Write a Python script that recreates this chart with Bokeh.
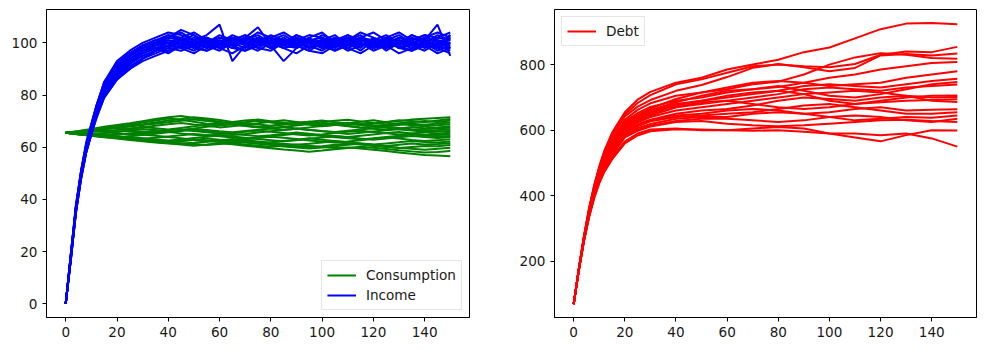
from bokeh.plotting import figure
from bokeh.layouts import row
from bokeh.models import Range1d, FixedTicker, Legend, LegendItem
from bokeh.embed import file_html
from bokeh.resources import INLINE

# ---------------- data ----------------
T_INC = [0, 2, 4, 6, 8, 10, 12, 15] + list(range(20, 151, 5))
T_CON = list(range(0, 151, 5))
T_DEBT = [0, 2, 4, 6, 8, 10, 12, 15, 20, 25, 30] + list(range(40, 151, 10))

income = [
    [0,18,36,49,59,66,73,81, 88,93,96,98,99,101,100,99,102,100,98,101,100,99,102,100,101,99,100,102,98,100,101,99,100,102,101],
    [0,19,37,50,60,67,74,83, 90,95,98,100,102,104,101,103,107,93,99,101,98,100,103,101,99,102,100,97,101,103,100,98,101,99,103],
    [0,17,35,48,58,65,72,80, 87,92,95,97,98,97,99,101,98,100,102,106,99,93,98,100,101,99,102,100,98,101,99,102,100,98,100],
    [0,18,37,50,61,68,75,84, 92,96,99,101,103,102,100,101,99,102,100,99,101,103,100,98,101,100,99,102,101,99,100,103,101,107,95],
    [0,17,36,49,59,66,72,80, 86,91,94,97,99,100,98,97,100,99,101,98,97,100,99,101,98,100,97,99,101,98,100,99,97,100,98],
    [0,19,38,51,61,68,76,85, 93,97,100,102,104,103,101,102,100,103,101,104,102,100,101,103,102,100,101,103,99,102,104,101,103,102,104],
    [0,18,36,49,60,67,74,82, 89,94,97,99,100,99,101,98,100,102,99,101,100,98,100,99,101,100,102,99,100,98,101,100,99,101,100],
    [0,18,37,50,60,67,74,82, 89,93,97,98,96,99,97,100,98,96,99,97,100,98,99,97,96,99,98,100,97,99,96,98,100,97,99],
    [0,17,35,48,58,65,72,79, 86,90,93,95,97,99,100,98,101,99,97,100,102,99,98,101,100,97,99,101,100,102,98,100,101,99,97],
    [0,19,37,51,61,69,76,85, 92,96,99,100,102,105,103,100,102,101,103,100,102,104,101,100,103,101,100,102,104,101,99,102,100,103,101],
    [0,18,36,50,60,67,73,81, 88,92,95,97,99,98,100,102,99,101,100,98,101,99,102,100,98,101,103,100,99,101,98,100,102,101,99],
    [0,18,37,50,60,68,75,83, 91,95,98,100,101,100,98,100,103,101,99,102,100,101,99,102,104,100,98,101,100,102,99,101,98,100,102],
    [0,17,36,49,59,66,73,80, 87,91,94,96,98,100,99,97,99,101,100,102,99,100,101,98,100,99,101,100,98,99,102,100,99,101,98],
    [0,19,37,50,61,68,75,84, 91,96,99,101,100,102,104,101,100,102,101,99,102,100,103,101,100,98,101,104,102,100,101,99,102,104,102],
    [0,18,36,49,59,66,73,81, 87,92,96,98,97,99,101,99,97,100,102,100,98,101,99,97,100,102,100,99,101,97,100,98,101,99,100],
    [0,18,37,50,60,67,74,83, 90,94,97,99,101,100,102,100,99,101,103,101,100,102,99,101,102,100,103,101,99,100,102,101,103,100,101],
    [0,17,35,48,58,65,71,79, 86,90,94,97,99,98,96,99,100,98,97,99,101,98,96,99,97,100,98,96,99,101,98,97,99,96,98],
    [0,19,38,51,62,69,76,84, 92,96,98,100,103,101,99,102,100,98,101,103,100,99,102,100,101,103,99,101,100,102,100,103,101,99,102],
    [0,18,36,49,60,67,74,82, 89,93,96,98,100,101,99,100,98,101,100,102,98,100,99,101,99,97,100,98,102,100,99,97,100,98,96],
    [0,18,37,50,61,68,75,83, 90,95,98,99,102,101,103,100,101,99,102,100,103,101,100,102,98,101,100,102,99,101,103,100,102,98,103],
]

consumption = [
    [65.5,66.0,66.8,67.3,68.0,68.6,69.5,70.2,71.0,70.5,69.8,69.0,68.5,68.9,69.4,68.7,68.2,68.8,69.3,68.6,68.0,68.5,69.2,69.8,70.3,69.6,70.0,70.6,70.9,71.2,71.5],
    [65.5,66.2,67.0,67.8,68.5,69.2,70.0,70.8,71.5,72.0,71.2,70.5,69.8,69.2,69.6,70.1,69.5,68.9,69.3,69.8,70.2,69.6,69.0,68.6,69.1,69.7,70.3,70.0,69.6,70.2,70.8],
    [65.5,65.8,66.5,67.2,67.6,68.3,68.8,69.5,70.2,70.8,71.5,71.0,70.4,69.7,70.2,70.6,70.0,69.4,68.8,69.2,69.7,70.1,70.5,69.9,69.3,68.8,69.2,69.6,70.0,69.7,70.2],
    [65.5,66.0,66.3,66.9,67.5,67.0,67.6,68.2,68.8,69.3,68.7,68.2,67.6,68.0,68.6,69.2,69.8,70.3,69.7,69.1,68.5,68.9,69.4,69.0,68.4,68.0,68.5,69.0,68.6,69.1,69.5],
    [65.5,65.6,66.2,66.0,66.6,67.2,67.8,67.3,66.8,67.4,68.0,68.6,69.2,68.7,68.1,67.6,68.1,68.7,69.3,69.8,69.2,68.6,68.0,67.5,67.9,68.5,69.0,68.4,68.0,68.4,68.8],
    [65.5,65.9,66.4,66.9,67.4,67.9,68.5,69.0,69.6,70.1,70.6,70.0,69.5,68.9,68.3,67.8,67.3,67.8,68.3,68.9,69.4,68.8,68.2,67.6,67.1,66.7,67.2,67.7,67.3,67.6,68.0],
    [65.5,65.3,65.8,66.3,66.0,66.5,67.0,66.6,66.1,66.6,67.2,67.8,68.3,68.8,68.3,67.7,67.2,66.7,67.1,67.6,68.1,68.6,69.0,68.5,68.0,67.5,67.0,66.6,67.0,67.3,67.5],
    [65.5,65.2,64.8,65.3,65.8,66.3,66.0,65.5,66.0,66.5,67.0,66.6,66.1,65.7,66.2,66.7,67.2,67.7,67.2,66.7,66.2,65.8,66.3,66.8,67.3,67.8,67.4,66.9,66.5,66.6,66.8],
    [65.5,65.8,66.2,65.8,65.3,64.8,65.2,65.7,66.2,66.7,66.2,65.7,65.2,64.7,65.1,65.6,66.1,66.6,67.1,66.6,66.1,65.6,65.1,65.5,66.0,66.5,66.9,66.4,65.9,65.9,66.2],
    [65.5,65.1,64.7,64.3,64.8,65.3,65.8,66.3,65.8,65.3,64.8,64.4,64.9,65.4,65.9,66.4,65.9,65.4,64.9,64.5,64.9,65.4,65.9,66.3,65.8,65.3,64.9,65.3,65.7,65.2,65.5],
    [65.5,65.0,64.6,64.1,63.7,64.2,64.7,65.2,65.7,66.2,66.7,66.2,65.7,65.2,64.7,64.2,64.6,65.1,65.6,65.2,64.7,64.3,63.9,64.4,64.9,65.4,65.8,65.3,64.8,64.7,65.0],
    [65.5,65.2,64.8,64.4,64.0,63.6,63.2,63.6,64.1,64.6,65.1,64.7,64.2,63.7,63.3,63.7,64.2,64.7,65.2,64.8,64.3,63.8,63.4,63.0,63.4,63.9,64.4,64.9,64.5,64.1,64.3],
    [65.5,65.6,65.2,64.7,64.2,63.8,63.4,63.0,62.6,63.0,63.5,64.0,64.5,64.1,63.6,63.1,62.7,62.3,62.7,63.2,63.7,64.2,63.8,63.3,62.9,63.3,63.8,64.3,63.9,63.5,63.8],
    [65.5,65.3,64.9,64.5,64.9,65.3,64.9,64.4,63.9,63.4,62.9,62.5,62.1,62.5,63.0,63.5,64.0,63.6,63.1,62.6,62.2,61.8,62.2,62.7,63.2,63.7,63.3,62.8,62.4,62.7,63.0],
    [65.5,64.9,64.4,63.9,63.5,63.1,62.7,62.3,61.9,62.3,62.8,63.3,62.9,62.4,61.9,61.5,61.9,62.4,62.9,63.4,62.9,62.4,61.9,61.4,61.0,61.4,61.9,62.4,62.0,61.8,62.2],
    [65.5,65.0,64.5,64.0,63.5,63.0,62.5,62.0,61.6,61.2,61.6,62.1,62.6,63.1,62.7,62.2,61.7,61.3,60.9,61.3,61.8,62.3,61.9,61.4,60.9,60.5,60.9,61.4,61.0,61.2,61.5],
    [65.5,65.2,64.7,64.2,63.7,63.2,62.8,62.3,61.9,61.5,61.1,60.8,61.2,61.7,62.2,61.8,61.3,60.8,60.4,60.0,60.4,60.9,61.4,61.0,60.5,60.1,59.7,60.1,60.5,60.4,60.8],
    [65.5,65.1,64.6,64.1,63.6,63.2,62.7,62.2,61.7,61.3,61.7,62.2,62.7,62.3,61.8,61.3,60.8,60.3,59.9,59.5,59.9,60.4,60.9,61.3,60.8,60.3,59.8,59.4,59.0,59.4,59.8],
    [65.5,65.0,64.4,63.8,63.3,62.8,62.3,61.8,61.4,61.0,60.6,61.0,61.5,61.1,60.6,60.1,59.6,59.1,58.7,58.3,58.7,59.2,59.7,60.2,59.8,59.3,58.8,58.4,58.0,58.2,58.5],
    [65.5,65.2,64.8,64.3,63.8,63.4,63.0,62.6,62.2,62.6,63.0,62.5,62.0,61.5,61.0,60.6,60.2,60.6,61.0,60.6,60.1,59.7,59.9,59.5,59.0,58.5,58.0,57.5,57.0,56.8,56.5],
]

debt = [
    [70,178,277,362,432,490,538,592,655,693,717, 745,760,785,800,815,838,852,880,908,925,927,923],
    [70,177,275,360,429,486,533,586,648,683,707, 740,755,775,795,800,795,792,802,830,840,838,854],
    [70,177,274,358,427,483,529,581,642,672,692, 720,738,762,790,802,792,780,790,828,832,828,834],
    [70,176,272,355,423,478,522,572,632,662,682, 705,715,725,740,748,770,800,822,835,830,820,818],
    [70,176,271,353,420,474,517,566,626,652,671, 690,700,715,725,732,745,760,770,785,795,805,808],
    [70,176,271,352,419,473,516,564,622,647,666, 695,715,730,745,750,745,735,740,745,760,770,780],
    [70,175,269,350,416,469,511,558,616,641,656, 680,690,700,710,720,735,740,735,730,740,750,757],
    [70,175,270,351,417,471,513,561,619,643,661, 685,705,720,725,735,720,705,700,710,725,740,747],
    [70,175,268,348,413,466,507,553,609,632,648, 670,680,690,700,710,725,730,725,720,730,735,739],
    [70,175,269,349,415,468,510,557,613,636,653, 675,690,705,715,720,710,690,680,690,700,705,706],
    [70,174,267,346,410,461,502,546,602,624,640, 660,670,680,690,700,710,715,720,715,705,700,701],
    [70,174,268,347,412,464,505,551,607,628,645, 670,685,690,680,670,665,670,680,685,690,692,694],
    [70,174,266,344,407,458,497,541,597,618,632, 650,660,665,675,690,700,695,690,700,705,690,686],
    [70,174,266,343,406,456,495,538,594,615,629, 645,650,660,665,660,650,655,665,670,660,662,664],
    [70,173,265,342,404,454,492,535,591,612,627, 640,645,650,655,665,675,680,670,660,650,650,655],
    [70,173,264,341,402,451,489,531,586,606,619, 635,640,640,650,655,650,640,630,635,640,638,645],
    [70,173,263,339,400,448,486,527,581,601,614, 628,635,635,630,625,630,640,645,640,630,625,635],
    [70,172,263,338,398,446,483,524,578,598,611, 625,628,620,615,612,615,620,625,630,632,628,625],
    [70,172,262,336,395,442,478,517,566,590,602, 605,600,600,605,610,605,590,578,566,585,600,599],
    [70,171,260,334,392,438,473,511,560,584,597, 603,602,600,598,600,595,590,590,585,590,575,550],
]

X_TICKS = [0, 20, 40, 60, 80, 100, 120, 140]
Y_TICKS_LEFT = [0, 20, 40, 60, 80, 100]
Y_TICKS_RIGHT = [200, 400, 600, 800]

FONT = "DejaVu Sans"
FS = "13.6px"
LW = 2


def style(p, yticks):
    p.xgrid.visible = False
    p.ygrid.visible = False
    p.outline_line_color = "black"
    p.outline_line_width = 1
    p.outline_line_alpha = 1
    p.background_fill_color = "white"
    p.border_fill_color = "white"
    for ax, ticks in ((p.xaxis[0], X_TICKS), (p.yaxis[0], yticks)):
        ax.ticker = FixedTicker(ticks=ticks)
        ax.minor_tick_line_color = None
        ax.major_tick_in = 0
        ax.major_tick_out = 4
        ax.major_tick_line_color = "black"
        ax.axis_line_color = "black"
        ax.major_label_text_font = FONT
        ax.major_label_text_font_size = FS
        ax.major_label_text_color = "#1a1a1a"
        ax.major_label_standoff = 5


def style_legend(lg):
    lg.label_text_font = FONT
    lg.label_text_font_size = FS
    lg.label_text_color = "#1a1a1a"
    lg.border_line_color = "#cccccc"
    lg.border_line_width = 1
    lg.background_fill_alpha = 0.8
    lg.glyph_width = 29
    lg.glyph_height = 18
    lg.label_height = 18
    lg.label_standoff = 10
    lg.padding = 5
    lg.spacing = 2
    lg.margin = 7


# ---------------- left panel ----------------
p1 = figure(width=493, height=351, output_backend="svg", toolbar_location=None,
            x_range=Range1d(-7.5, 157.5), y_range=Range1d(-5.3, 112.8),
            min_border_left=46, min_border_right=24, min_border_top=9, min_border_bottom=34)
r_con = p1.multi_line(xs=[T_CON] * len(consumption), ys=consumption, line_color="green", line_width=LW)
r_inc = p1.multi_line(xs=[T_INC] * len(income), ys=income, line_color="blue", line_width=LW)
style(p1, Y_TICKS_LEFT)
lg1 = Legend(items=[LegendItem(label="Consumption", renderers=[r_con]),
                    LegendItem(label="Income", renderers=[r_inc])],
             location="bottom_right")
style_legend(lg1)
p1.add_layout(lg1)

# ---------------- right panel ----------------
p2 = figure(width=493, height=351, output_backend="svg", toolbar_location=None,
            x_range=Range1d(-7.5, 157.5), y_range=Range1d(29, 968),
            min_border_left=61, min_border_right=10, min_border_top=9, min_border_bottom=34)
r_debt = p2.multi_line(xs=[T_DEBT] * len(debt), ys=debt, line_color="red", line_width=LW)
style(p2, Y_TICKS_RIGHT)
lg2 = Legend(items=[LegendItem(label="Debt", renderers=[r_debt])], location="top_left")
style_legend(lg2)
p2.add_layout(lg2)

layout = row(p1, p2)
open("out.html", "w").write(file_html(layout, INLINE))
